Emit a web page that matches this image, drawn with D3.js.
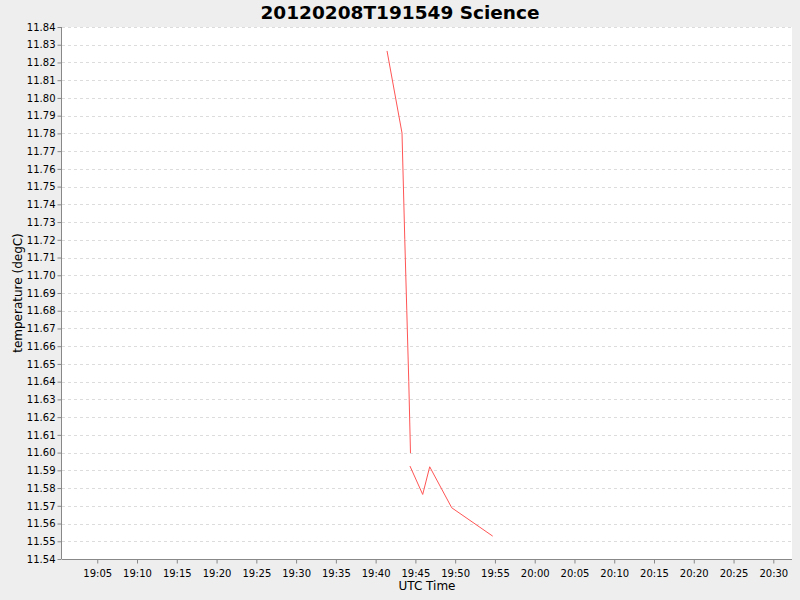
<!DOCTYPE html>
<html><head><meta charset="utf-8">
<script src="https://cdn.jsdelivr.net/npm/d3@7"></script>
<style>body{margin:0;background:#eeeeee;}svg{display:block;}</style>
</head><body>
<svg id="c" width="800" height="600"></svg>
<script>
const titleText = "20120208T191549 Science";
const xLabel = "UTC Time";
const yLabel = "temperature (degC)";
// times (UTC, 2012-02-08) and temperatures; null marks a gap in the line
const times = ["19:41:26","19:43:19","19:43:40","19:43:55","19:44:10","19:44:23","19:44:21",
               "19:44:19","19:45:55","19:46:48","19:49:34","19:54:43"];
const temps = [11.8265,11.7802,11.720,11.680,11.640,11.5997,null,
               11.5924,11.5764,11.5920,11.5689,11.5529];
const xDomain = ["19:00:34","20:32:21"];
const yDomain = [11.54, 11.84];
const xTickMinutes = 5;

const parse = s => new Date("2012-02-08T" + s + "Z");
const data = times.map((t,i)=>({t:parse(t), v:temps[i]}));

const svg = d3.select("#c");
const L=62, T=27, R=792, B=559;
const x = d3.scaleUtc().domain(xDomain.map(parse)).range([L,R]);
const y = d3.scaleLinear().domain(yDomain).range([B,T]);

svg.append("rect").attr("x",L).attr("y",T).attr("width",R-L).attr("height",B-T).attr("fill","#fff");

const yTicks = d3.range(0,31).map(i=>+(yDomain[0]+i*0.01).toFixed(2));
const xTicks = x.ticks(d3.utcMinute.every(xTickMinutes));

// grid
svg.append("g").selectAll("line").data(yTicks).join("line")
  .attr("x1",L).attr("x2",R).attr("y1",d=>Math.round(y(d))+0.5).attr("y2",d=>Math.round(y(d))+0.5)
  .attr("stroke","#dcdcdc").attr("stroke-width",1).attr("stroke-dasharray","3,3");

// axes
const fmt = d3.utcFormat("%H:%M");
const xAxis = svg.append("g").attr("transform",`translate(0,${B+0.5})`)
  .call(d3.axisBottom(x).tickValues(xTicks).tickFormat(fmt).tickSize(4).tickPadding(3));
const yAxis = svg.append("g").attr("transform",`translate(${L-0.5},0)`)
  .call(d3.axisLeft(y).tickValues(yTicks).tickFormat(d3.format(".2f")).tickSize(4).tickPadding(2));
[xAxis,yAxis].forEach(g=>{
  g.select(".domain").attr("stroke","#888").attr("stroke-width",1);
  g.selectAll(".tick line").attr("stroke","#888");
  g.selectAll("text").attr("fill","#000").attr("font-family","DejaVu Sans").attr("font-size","10px");
});
xAxis.select(".domain").attr("d",`M${L},0H${R}`);
yAxis.select(".domain").attr("d",`M0,${T}V${B}`);
xAxis.selectAll("text").attr("dy","1em");

// line
const line = d3.line().defined(d=>d.v!==null).x(d=>x(d.t)).y(d=>y(d.v));
svg.append("path").datum(data).attr("d",line).attr("fill","none")
  .attr("stroke","#ff5555").attr("stroke-width",1);

// labels
svg.append("text").attr("x",400).attr("y",19).attr("text-anchor","middle")
  .attr("font-family","DejaVu Sans").attr("font-weight","bold").attr("font-size","18.5px").text(titleText);
svg.append("text").attr("x",(L+R)/2).attr("y",590).attr("text-anchor","middle")
  .attr("font-family","DejaVu Sans").attr("font-size","12px").text(xLabel);
svg.append("text").attr("transform",`translate(22,${(T+B)/2}) rotate(-90)`).attr("text-anchor","middle")
  .attr("font-family","DejaVu Sans").attr("font-size","12px").text(yLabel);
</script>
</body></html>
